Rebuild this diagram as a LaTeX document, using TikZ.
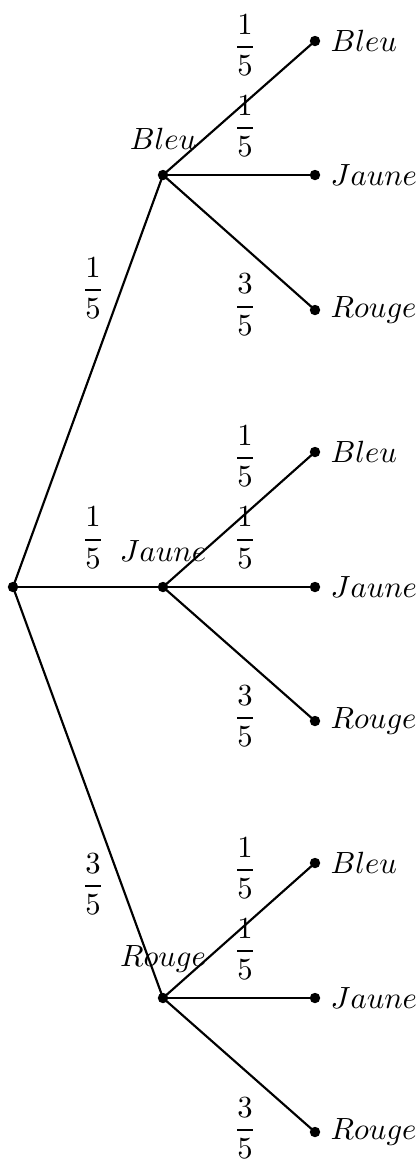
\documentclass[tikz,border=0pt]{standalone}
\usepackage{amsmath}
\usepackage{tikz}

\begin{document}
\begin{tikzpicture}[
  x={(0.326pt,0pt)},y={(0pt,-0.326pt)},
  branch/.style={line width=0.7pt},
  dot/.style={circle,fill,inner sep=0pt,minimum size=3.4pt},
  proba/.style={inner sep=1pt}
]
  \useasboundingbox (0,0) rectangle (420,1165);
  % racine et premier tirage
  \node[dot] (R) at (13,587) {};
  \node[dot,label={[label distance=3pt]above:$Bleu$}] (B) at (163,175) {};
  \node[dot,label={[label distance=3pt]above:$Jaune$}] (J) at (163,587) {};
  \node[dot,label={[label distance=3pt]above:$Rouge$}] (Rg) at (163,998) {};
  % second tirage
  \node[dot,label={[inner sep=3pt]right:$Bleu$}] (BB) at (315,41) {};
  \node[dot,label={[inner sep=3pt]right:$Jaune$}] (BJ) at (315,175) {};
  \node[dot,label={[inner sep=3pt]right:$Rouge$}] (BR) at (315,310) {};
  \node[dot,label={[inner sep=3pt]right:$Bleu$}] (JB) at (315,452) {};
  \node[dot,label={[inner sep=3pt]right:$Jaune$}] (JJ) at (315,587) {};
  \node[dot,label={[inner sep=3pt]right:$Rouge$}] (JR) at (315,721) {};
  \node[dot,label={[inner sep=3pt]right:$Bleu$}] (RB) at (315,863) {};
  \node[dot,label={[inner sep=3pt]right:$Jaune$}] (RJ) at (315,998) {};
  \node[dot,label={[inner sep=3pt]right:$Rouge$}] (RR) at (315,1132) {};
  % branches
  \draw[branch] (R.center) -- (B.center);
  \draw[branch] (R.center) -- (J.center);
  \draw[branch] (R.center) -- (Rg.center);
  \draw[branch] (B.center) -- (BB.center);
  \draw[branch] (B.center) -- (BJ.center);
  \draw[branch] (B.center) -- (BR.center);
  \draw[branch] (J.center) -- (JB.center);
  \draw[branch] (J.center) -- (JJ.center);
  \draw[branch] (J.center) -- (JR.center);
  \draw[branch] (Rg.center) -- (RB.center);
  \draw[branch] (Rg.center) -- (RJ.center);
  \draw[branch] (Rg.center) -- (RR.center);
  % probabilites
  \node[proba] (pB) at (93,288) {$\dfrac{1}{5}$};
  \node[proba] (pJ) at (93,538) {$\dfrac{1}{5}$};
  \node[proba] (pR) at (93,884) {$\dfrac{3}{5}$};
  \node[proba] (pBB) at (245,45) {$\dfrac{1}{5}$};
  \node[proba] (pBJ) at (245,126) {$\dfrac{1}{5}$};
  \node[proba] (pBR) at (245,305) {$\dfrac{3}{5}$};
  \node[proba] (pJB) at (245,456) {$\dfrac{1}{5}$};
  \node[proba] (pJJ) at (245,538) {$\dfrac{1}{5}$};
  \node[proba] (pJR) at (245,716) {$\dfrac{3}{5}$};
  \node[proba] (pRB) at (245,868) {$\dfrac{1}{5}$};
  \node[proba] (pRJ) at (245,949) {$\dfrac{1}{5}$};
  \node[proba] (pRR) at (245,1128) {$\dfrac{3}{5}$};
\end{tikzpicture}
\end{document}
